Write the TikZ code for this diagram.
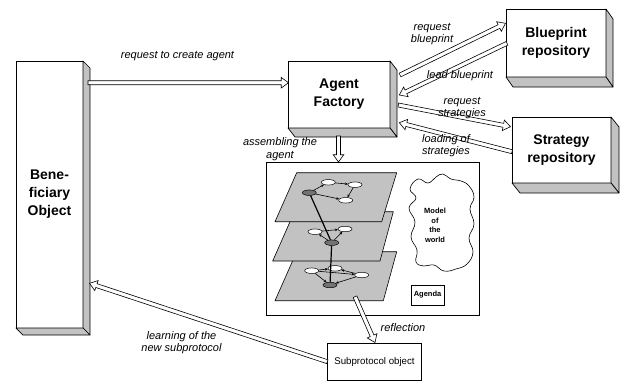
\documentclass[tikz,border=0pt]{standalone}
\usepackage{fontspec}
\setmainfont{Liberation Sans}
\usetikzlibrary{shapes.geometric,shapes.arrows,calc,arrows.meta}

\definecolor{shade}{gray}{0.76}
\definecolor{planegray}{gray}{0.76}
\definecolor{darknode}{gray}{0.45}

% grey extrusion on the right and bottom of a box node
\newcommand\extrude[3]{%
  \filldraw[side] (#1.north east) -- ++(#2,#3) -- ($(#1.south east)+(#2,#3)$) -- (#1.south east) -- cycle;
  \filldraw[side] (#1.south west) -- ++(#2,#3) -- ($(#1.south east)+(#2,#3)$) -- (#1.south east) -- cycle;}

% hollow block arrow from #1 to #2, named #3
\newcommand\hollowarrow[3]{%
  \path let \p1=($(#2)-(#1)$), \n1={veclen(\x1,\y1)}, \n2={atan2(\y1,\x1)} in
    node[harrow, minimum height=\n1, rotate=\n2] (#3) at (#1) {};}

\begin{document}
\begin{tikzpicture}[x=1pt,y=-1pt,
  box3d/.style={draw, fill=white, line width=0.7pt, inner sep=0pt, outer sep=0pt,
    align=center, font=\fontsize{14}{18}\selectfont\bfseries},
  side/.style={fill=shade, draw=black, line width=0.7pt, line join=round},
  plainbox/.style={draw, fill=white, line width=0.7pt, inner sep=0pt, outer sep=0pt},
  harrow/.style={single arrow, draw, fill=white, line width=0.6pt, inner xsep=0pt,
    inner ysep=1.7pt, outer sep=0pt, single arrow head extend=3.3pt,
    single arrow tip angle=72, single arrow head indent=0pt, anchor=tail},
  lbl/.style={font=\fontsize{11}{12.5}\selectfont\itshape, align=center, inner sep=0pt},
  tiny/.style={font=\fontsize{7.5}{9.5}\selectfont\bfseries, align=center, inner sep=0pt},
  plane/.style={fill=planegray, draw=black, line width=0.6pt, line join=round},
  wnode/.style={ellipse, draw, fill=white, line width=0.5pt, minimum width=14pt,
    minimum height=5.5pt, inner sep=0pt},
  dnode/.style={wnode, fill=darknode},
  gedge/.style={line width=0.6pt, -{Stealth[length=3pt,width=2.6pt]}},
  vedge/.style={line width=1.2pt},
]
\useasboundingbox (0,0) rectangle (623,380);

% ---------- main boxes ----------
\node[box3d, minimum width=67pt, minimum height=267pt] (ben) at (49.5,194.5)
  {Bene-\\ficiary\\Object};
\extrude{ben}{7}{7}
\node[box3d, minimum width=102pt, minimum height=67pt] (fac) at (339,94.5)
  {Agent\\Factory};
\extrude{fac}{7}{9}
\node[box3d, minimum width=100pt, minimum height=68pt] (blue) at (556,43)
  {Blueprint\\repository};
\extrude{blue}{7}{10}
\node[box3d, minimum width=99pt, minimum height=66pt] (strat) at (561.5,150)
  {Strategy\\repository};
\extrude{strat}{8}{10}

% ---------- the agent ----------
\node[plainbox, minimum width=213pt, minimum height=153pt] (agent) at (372.5,238.5) {};

% three layers, bottom first
\filldraw[plane] (296.7,251.7) -- (396.7,251.7) -- (383.3,300.7) -- (275,300.7) -- cycle;
\filldraw[plane] (294.4,211.7) -- (393.3,211.7) -- (380,261) -- (272.7,261) -- cycle;
\filldraw[plane] (296.7,172.7) -- (396.7,172.7) -- (381.7,221.7) -- (275,221.7) -- cycle;

% top layer graph
\node[dnode] (d1) at (309.3,192.7) {};
\node[wnode] (a1) at (328.3,182.3) {};
\node[wnode] (b1) at (355,184.7) {};
\node[wnode] (c1) at (345.7,200.3) {};
\draw[gedge] (d1) -- (a1);
\draw[gedge] (a1) -- (b1);
\draw[gedge] (b1) -- (c1);
\draw[gedge] (d1) -- (c1);

% middle layer graph
\node[wnode] (a2) at (315,231.7) {};
\node[wnode] (b2) at (345,229) {};
\node[dnode] (d2) at (331.7,242.7) {};
\draw[gedge] (a2) -- (b2);
\draw[gedge] (d2) -- (a2);
\draw[gedge] (d2) -- (b2);

% bottom layer graph
\node[wnode] (a3) at (311.7,270.7) {};
\node[wnode] (b3) at (335,268.3) {};
\node[wnode] (c3) at (361.7,275) {};
\node[dnode] (d3) at (330,285) {};
\draw[gedge] (a3) -- (b3);
\draw[gedge] (a3) -- (c3);
\draw[gedge] (a3) -- (d3);
\draw[gedge] (c3) -- (b3);
\draw[gedge] (c3) -- (d3);

% links between layers
\draw[vedge] (d1) -- (d2);
\draw[vedge] (d2) -- (d3);

% model of the world
\draw[line width=0.6pt] plot[smooth cycle, tension=0.75] coordinates {
  (418,179) (428,183) (436,177) (443,174) (451,179) (461,181) (469,186)
  (474,197) (470,209) (474,224) (469,238) (473,252) (467,264)
  (456,269) (444,271) (434,265) (424,266) (416,262) (417,250)
  (411,237) (415,222) (409,208) (416,198) (410,189)};
\node[tiny] (world) at (435,225.5) {Model\\of\\the\\world};

\node[plainbox, minimum width=33pt, minimum height=20pt, tiny] (agenda) at (427.5,295) {Agenda};

% subprotocol object
\node[plainbox, minimum width=94.4pt, minimum height=37.2pt] (sub) at (374.5,361.9) {};
\node[font=\fontsize{9.7}{11}\selectfont, inner sep=0pt] (subtxt) at (374.5,362) {Subprotocol object};

% ---------- arrow end points ----------
\coordinate (c-s) at (88,82.7);     \coordinate (c-e) at (288.5,82.7);
\coordinate (rb-s) at (400,75);     \coordinate (rb-e) at (505.5,23.3);
\coordinate (lb-s) at (507,43.3);   \coordinate (lb-e) at (399.3,95);
\coordinate (rs-s) at (398.3,105);  \coordinate (rs-e) at (510.5,126.7);
\coordinate (ls-s) at (512,151.7);  \coordinate (ls-e) at (399.3,122.7);
\coordinate (as-s) at (338.5,136);  \coordinate (as-e) at (338.5,162);
\coordinate (rf-s) at (355,296.7);  \coordinate (rf-e) at (375,342.5);
\coordinate (ln-s) at (327.3,361.7); \coordinate (ln-e) at (89.5,283.3);

\hollowarrow{c-s}{c-e}{create}
\hollowarrow{rb-s}{rb-e}{reqblue}
\hollowarrow{lb-s}{lb-e}{leadblue}
\hollowarrow{rs-s}{rs-e}{reqstrat}
\hollowarrow{ls-s}{ls-e}{loadstrat}
\hollowarrow{as-s}{as-e}{assemble}
\hollowarrow{rf-s}{rf-e}{reflect}
\hollowarrow{ln-s}{ln-e}{learn}

% ---------- labels ----------
\node[lbl] (l-create) at (177.5,55.7) {request to create agent};
\node[lbl] (l-reqblue) at (432,34) {request\\blueprint};
\node[lbl] (l-leadblue) at (460,76) {lead blueprint};
\node[lbl] (l-reqstrat) at (462,108.3) {request\\strategies};
\node[lbl] (l-loadstrat) at (446,145.5) {loading of\\strategies};
\node[lbl] (l-assemble) at (280,149) {assembling the\\agent};
\node[lbl] (l-reflect) at (403,328) {reflection};
\node[lbl] (l-learn) at (181.5,342.5) {learning of the\\new subprotocol};
\end{tikzpicture}
\end{document}
